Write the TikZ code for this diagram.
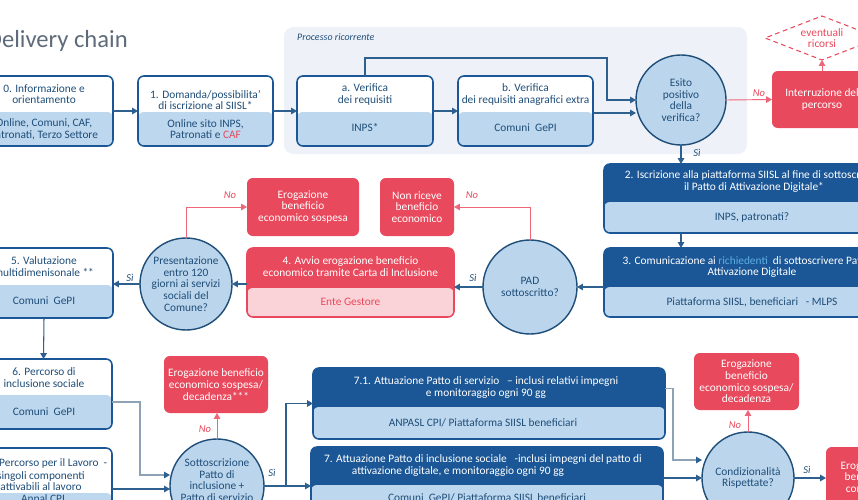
\documentclass[tikz,border=0pt]{standalone}
\usepackage{fontspec}
\setmainfont{Carlito}
\usetikzlibrary{arrows.meta,shapes.geometric,calc}
\definecolor{dblue}{HTML}{1B5796}
\definecolor{lblue}{HTML}{BDD7EE}
\definecolor{cblue}{HTML}{BBD5EC}
\definecolor{tblue}{HTML}{1F4E79}
\definecolor{cred}{HTML}{E9495C}
\definecolor{lred}{HTML}{EE6677}
\definecolor{pink}{HTML}{FAD3D8}
\definecolor{panel}{HTML}{EEF2F8}
\definecolor{lgray}{HTML}{8EA2B6}
\definecolor{lineblue}{HTML}{2D5F8F}
\definecolor{richblue}{HTML}{5DADE2}
\definecolor{titlegray}{HTML}{5F6B7A}
\newcommand\fsz{\fontsize{9.7pt}{10pt}\selectfont}
\newcommand\twobox[8]{\node[#7, minimum width={((#4)-(#2))*0.03cm}, minimum height={((#5)-(#3))*0.03cm}, #8={((#5)-(#6))*0.03cm}] (#1) at ({((#2)+(#4))/2},{((#3)+(#5))/2}) {};}
\tikzset{
  lowb/.style={path picture={\fill[lblue] (path picture bounding box.south west) rectangle ([yshift={#1}]path picture bounding box.south east);}},
  lowp/.style={path picture={\fill[pink] (path picture bounding box.south west) rectangle ([yshift={#1}]path picture bounding box.south east);}},
  wbox/.style={draw=dblue, fill=white, line width=1.3pt, rounded corners=5pt, inner sep=0pt, outer sep=0pt},
  hbox/.style={draw=dblue, fill=dblue, line width=1.3pt, rounded corners=5pt, inner sep=0pt, outer sep=0pt},
  rhbox/.style={draw=cred, fill=cred, line width=1.3pt, rounded corners=5pt, inner sep=0pt, outer sep=0pt},
  redbox/.style={fill=cred, rounded corners=5pt, text=white, align=center, font=\fsz, inner sep=0pt, outer sep=0pt},
  t/.style={text=tblue, align=center, inner sep=0pt, font=\fsz},
  circ/.style={circle, draw=tblue, line width=1.2pt, fill=cblue, inner sep=0pt, outer sep=0pt, text=tblue, align=center, font=\fsz},
  arr/.style={draw=lineblue, line width=0.9pt, -{Triangle[length=5pt,width=5.5pt]}},
  garr/.style={draw=lgray, line width=0.9pt, -{Triangle[length=5pt,width=5.5pt,color=lineblue]}},
  rarr/.style={draw=lred, line width=0.8pt, -{Triangle[length=5pt,width=5.5pt]}},
  lab/.style={font=\fontsize{9pt}{10pt}\selectfont\itshape, inner sep=0pt, text=tblue},
  rlab/.style={font=\fontsize{9pt}{10pt}\selectfont\itshape, inner sep=0pt, text=cred},
}
\begin{document}
\begin{tikzpicture}[x=0.03cm,y=-0.03cm]
\useasboundingbox (0,0) rectangle (858,500);
\clip (0,0) rectangle (858,500);
\fill[white] (0,0) rectangle (858,500);
% title
\node[anchor=base east, text=titlegray, inner sep=0pt, font=\fontsize{21pt}{24pt}\selectfont] (title) at (128,47) {Delivery chain};
% panel
\fill[panel, rounded corners=8pt] (284,27) rectangle (747,154);
\node[anchor=west, text=tblue, inner sep=0pt, font=\fontsize{8.5pt}{9pt}\selectfont\itshape] (proc) at (297,37) {Processo ricorrente};
% row 1
\twobox{b0}{-25}{76}{113}{146}{112}{wbox}{lowb}
\node[t] (b0t) at (44,94) {0. Informazione e\\orientamento};
\node[t] (b0b) at (44,129) {Online, Comuni, CAF,\\Patronati, Terzo Settore};
\twobox{b1}{138}{76}{273}{146}{112}{wbox}{lowb}
\node[t] (b1t) at (205.5,100) {1. Domanda/possibilita'\\di iscrizione al SIISL*};
\node[t] (b1b) at (205.5,129) {Online sito INPS,\\Patronati e {\color{cred}CAF}};
\twobox{ba}{297}{76}{433}{146}{112}{wbox}{lowb}
\node[t] (bat) at (365,94.5) {a. Verifica\\dei requisiti};
\node[t] (bab) at (365,128) {INPS*};
\twobox{bb}{458}{76}{593}{146}{112}{wbox}{lowb}
\node[t] (bbt) at (525.5,94.5) {b. Verifica\\dei requisiti anagrafici extra};
\node[t] (bbb) at (525.5,128) {Comuni\ \ GePI};
\node[circ, minimum size={90*0.03cm}] (esito) at (681,100) {Esito\\positivo\\della\\verifica?};
\node[redbox, minimum width={100*0.03cm}, minimum height={57*0.03cm}] (interr) at (822,99.5) {Interruzione del\\percorso};
\node[diamond, draw=cred, dash pattern=on 4pt off 3pt, line width=0.9pt, minimum width={114*0.03cm}, minimum height={44*0.03cm}, inner sep=0pt, outer sep=0pt] (dia) at (822,38) {};
\node[t, text=cred] (diat) at (822,38) {eventuali\\ricorsi};
% boxes 2 and 3
\twobox{b2}{604}{164}{904}{233}{202}{hbox}{lowb}
\node[t, text=white] (b2t) at (754,181.5) {2. Iscrizione alla piattaforma SIISL al fine di sottoscrivere\\il Patto di Attivazione Digitale*};
\node[t] (b2b) at (752,217) {INPS, patronati?};
\twobox{b3}{604}{248}{904}{317}{287}{hbox}{lowb}
\node[t, text=white] (b3t) at (752,267) {3. Comunicazione ai {\color{richblue}richiedenti}\ \ di sottoscrivere Patto di\\Attivazione Digitale};
\node[t] (b3b) at (752,302) {Piattaforma SIISL, beneficiari\ \ \ - MLPS};
% row 3
\node[circ, minimum size={94*0.03cm}] (pad) at (530,287) {PAD\\sottoscritto?};
\node[redbox, minimum width={74*0.03cm}, minimum height={58*0.03cm}] (nonric) at (417,207) {Non riceve\\beneficio\\economico};
\twobox{b4}{247}{248}{454}{317}{288}{rhbox}{lowp}
\node[t, text=white] (b4t) at (350.5,266.5) {4. Avvio erogazione beneficio\\economico tramite Carta di Inclusione};
\node[t, text=cred] (b4b) at (350.5,302) {Ente Gestore};
\node[redbox, minimum width={112*0.03cm}, minimum height={58*0.03cm}] (sosp) at (303,207) {Erogazione\\beneficio\\economico sospesa};
\node[circ, minimum size={92*0.03cm}] (pres) at (186,284) {Presentazione\\entro 120\\giorni ai servizi\\sociali del\\Comune?};
\twobox{b5}{-25}{248}{113}{318}{285}{wbox}{lowb}
\node[t] (b5t) at (44,266.5) {5. Valutazione\\multidimenisonale **};
\node[t] (b5b) at (44,301) {Comuni\ \ GePI};
% row 4-5
\twobox{b6}{-25}{359}{112}{429}{395}{wbox}{lowb}
\node[t] (b6t) at (44,377.5) {6. Percorso di\\inclusione sociale};
\node[t] (b6b) at (44,412) {Comuni\ \ GePI};
\twobox{bl}{-25}{448}{112}{530}{493}{wbox}{lowb}
\node[t, anchor=west] (blt1) at (-1,463) {Percorso per il Lavoro\ \ -};
\node[t] (blt2) at (41,481) {singoli componenti\\attivabili al lavoro};
\node[t] (blb) at (43,499) {Anpal CPI};
\node[circ, minimum size={94*0.03cm}] (sott) at (217,486) {Sottoscrizione\\Patto di\\inclusione +\\Patto di servizio\\CPI se attivabili};
\node[redbox, minimum width={104*0.03cm}, minimum height={57*0.03cm}] (dec1) at (216,384.5) {Erogazione beneficio\\economico sospesa/\\decadenza***};
\twobox{b71}{313}{368}{665}{439}{407}{hbox}{lowb}
\node[t, text=white] (b71t) at (486,387.5) {7.1. Attuazione Patto di servizio\ \ \ -- inclusi relativi impegni\\e monitoraggio ogni 90 gg};
\node[t] (b71b) at (483,423) {ANPASL CPI/ Piattaforma SIISL beneficiari};
\twobox{b7}{311}{447}{663}{525}{485}{hbox}{lowb}
\node[t, text=white] (b7t1) at (483,460) {7. Attuazione Patto di inclusione sociale\ \ \ -inclusi impegni del patto di};
\node[t, text=white] (b7t2) at (458,472) {attivazione digitale, e monitoraggio ogni 90 gg};
\node[t] (b7b) at (487,498) {Comuni\ \ GePI/ Piattaforma SIISL beneficiari};
\node[circ, minimum size={92*0.03cm}] (cond) at (748,478) {Condizionalità\\Rispettate?};
\node[redbox, minimum width={105*0.03cm}, minimum height={57*0.03cm}] (dec2) at (746.5,381.5) {Erogazione\\beneficio\\economico sospesa/\\decadenza};
\node[redbox, minimum width={104*0.03cm}, minimum height={83*0.03cm}] (conf) at (878,488.5) {};
\node[t, text=white] (conft) at (866,477) {Erogazione\\beneficio\\continua};
% connectors
\draw[arr] (b0.east) -- (b1.west);
\draw[arr] (b1.east) -- (ba.west);
\draw[arr] (ba.east) -- (bb.west);
\coordinate (bbo) at ($(bb.east)+(0,2)$);
\draw[arr] (bbo) -- (bbo -| esito.west);
\draw[arr] (ba.north) |- ($(esito.west)+(-29,-42)$) |- (esito.west);
\draw[rarr] (esito.east) -- (interr.west);
\node[rlab] (no1) at (759,93) {No};
\draw[rarr] (interr.north) -- (dia.south);
\draw[arr] (esito.south) -- (esito.south |- b2.north);
\node[lab] (si1) at (697,153) {Sì};
\draw[arr] (b2.south -| esito) -- (b3.north -| esito);
\draw[arr] (b3.west |- pad) -- (pad.east);
\draw[arr] (pad.west) -- (pad.west -| b4.east);
\node[lab] (si2) at (473,278) {Sì};
\draw[rarr] (pad.north) |- (nonric.east);
\node[rlab] (no2) at (472,195) {No};
\draw[arr] (b4.west |- pres) -- (pres.east);
\draw[rarr] (pres.north) |- (sosp.west);
\node[rlab] (no3) at (230,195) {No};
\draw[arr] (pres.west) -- (pres.west -| b5.east);
\node[lab] (si3) at (130,278) {Sì};
\draw[arr] (b5.south) -- (b6.north);
\draw[garr] ($(b6.east)+(0,8)$) -- ++(28,0) |- ($(sott.west)+(0,-11)$);
\draw[arr] (bl.east) -- (bl.east -| sott.west);
\draw[rarr] (sott.north) -- (sott.north |- dec1.south);
\node[rlab] (no4) at (205,429) {No};
\draw[arr] (sott.east) -- ++(22,0) |- (b71.west);
\draw[arr] (sott.east) -- (b7.west);
\node[lab] (si4) at (272,473) {Sì};
\draw[garr] ($(b71.east)+(0,-15)$) -- ++(8,0) |- ($(cond.west)+(0,-18)$);
\draw[arr] (b7.east |- cond.west) -- (cond.west);
\draw[rarr] (cond.north) -- (cond.north |- dec2.south);
\node[rlab] (no5) at (735,425) {No};
\draw[arr] (cond.east) -- (cond.east -| conf.west);
\node[lab] (si5) at (807,470) {Sì};
\end{tikzpicture}
\end{document}
